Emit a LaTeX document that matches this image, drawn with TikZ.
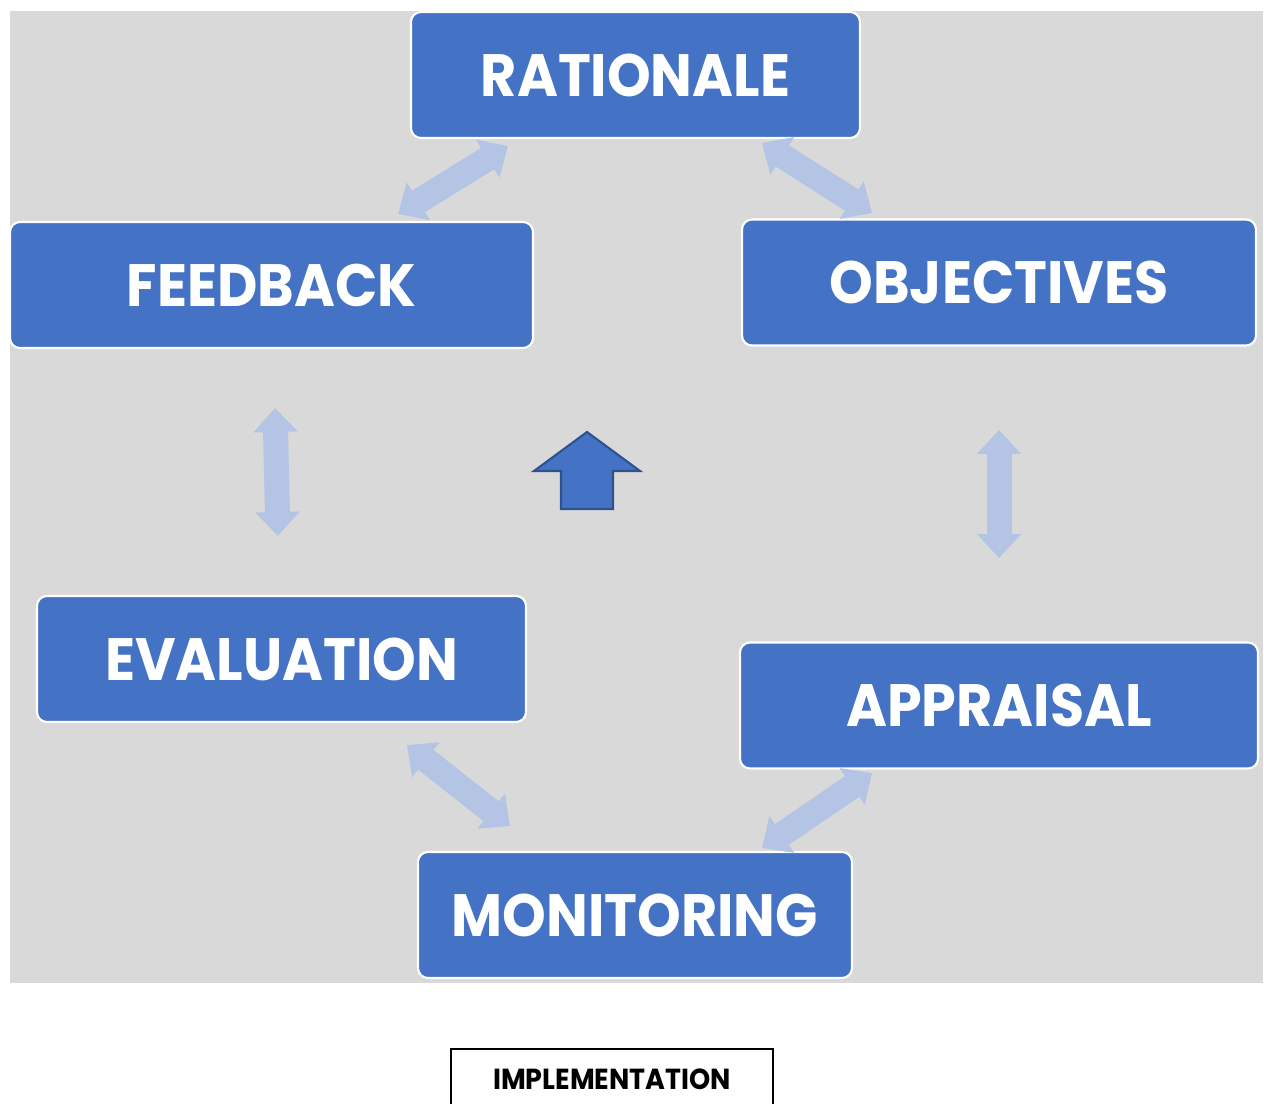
\documentclass[tikz,border=0pt]{standalone}
\usepackage{fontspec}
\setmainfont{Poppins}[FakeStretch=0.93]
\usepackage{tikz}
\usetikzlibrary{arrows.meta}
\definecolor{boxblue}{HTML}{4472C4}
\definecolor{lineblue}{HTML}{2F528F}
\definecolor{paleblue}{HTML}{B4C4E4}
\definecolor{bggray}{HTML}{D9D9D9}
\newcommand{\unitpx}{0.02cm}

\begin{document}
\begin{tikzpicture}[x=\unitpx, y=-\unitpx,
		box/.style={draw=white, line width=1.2pt, fill=boxblue, rounded corners=0.2cm,
			text=white, font=\fontsize{34}{34}\selectfont\bfseries,
			minimum height=126*\unitpx, inner sep=0pt},
		dbl/.style={paleblue, line width=0.5cm,
			{Triangle[length=0.48cm, width=0.86cm]}-{Triangle[length=0.48cm, width=0.86cm]}},
		uparrow/.style={draw=lineblue, line width=1.2pt, fill=boxblue, line join=miter}]
				\useasboundingbox (0,0) rectangle (1264,1104);
				\clip (0,0) rectangle (1264,1104);
				\fill[bggray] (10,11) rectangle (1263,983);

				\node[box, minimum width=449*\unitpx] (rationale) at (635.5,75) {RATIONALE};
				\node[box, minimum width=523*\unitpx] (feedback) at (271.5,285) {FEEDBACK};
				\node[box, minimum width=514*\unitpx] (objectives) at (999,282.5) {OBJECTIVES};
				\node[box, minimum width=489*\unitpx] (evaluation) at (281.5,659) {EVALUATION};
				\node[box, minimum width=518*\unitpx] (appraisal) at (999,705.5) {APPRAISAL};
				\node[box, minimum width=434*\unitpx] (monitoring) at (635,915) {MONITORING};

				\coordinate (rf1) at (508,146);
				\coordinate (rf2) at (398,214);
				\coordinate (ro1) at (762,143);
				\coordinate (ro2) at (872,213);
				\coordinate (fe1) at (275,408);
				\coordinate (fe2) at (278,536);
				\coordinate (oa1) at (999,430);
				\coordinate (oa2) at (999,558);
				\coordinate (em1) at (407,745);
				\coordinate (em2) at (510,826);
				\coordinate (am1) at (872,773);
				\coordinate (am2) at (762,848);
				\foreach \a/\b in {rf1/rf2, ro1/ro2, fe1/fe2, oa1/oa2, em1/em2, am1/am2}
					\draw[dbl] (\a) -- (\b);

				\draw[uparrow] (587,432) -- (640,471) -- (613,471) -- (613,509)
					-- (561,509) -- (561,471) -- (534,471) -- cycle;

				\node[draw=black, line width=1.2pt, fill=white, minimum width=322*\unitpx,
					minimum height=60*\unitpx, inner sep=0pt,
					font=\fontsize{16.5}{16.5}\selectfont\bfseries] (implementation) at (612,1079) {IMPLEMENTATION};

			\end{tikzpicture}
\end{document}
